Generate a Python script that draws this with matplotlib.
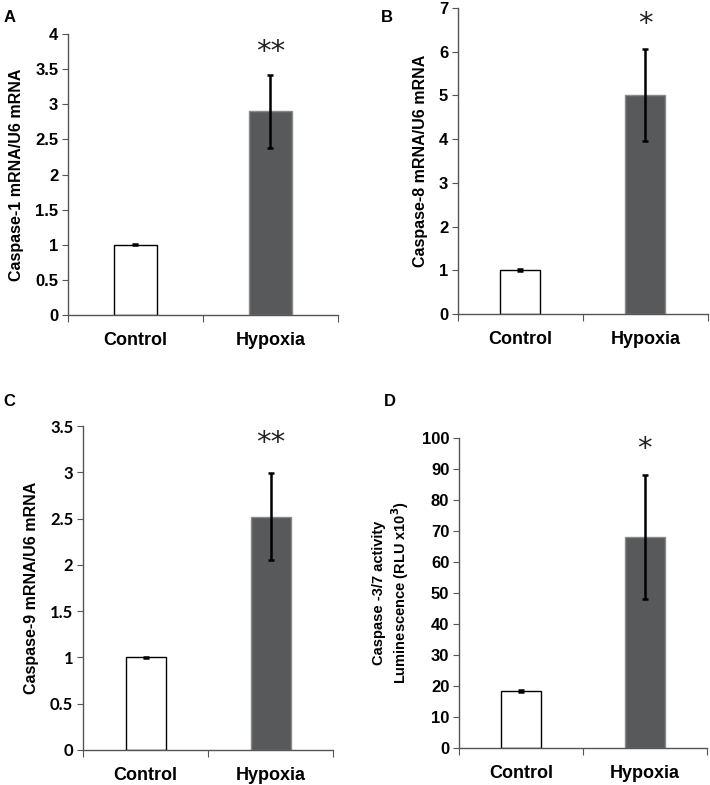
import matplotlib
matplotlib.use("Agg")
import matplotlib.pyplot as plt
import numpy as np

plt.rcParams['font.family'] = ['Liberation Sans', 'DejaVu Sans']
plt.rcParams['font.weight'] = 'bold'
plt.rcParams['axes.labelweight'] = 'bold'

# data
groups = ["Control", "Hypoxia"]
casp1_mean = [1.0, 2.9]
casp1_err = [0.01, 0.52]
casp8_mean = [1.0, 5.0]
casp8_err = [0.02, 1.05]
casp9_mean = [1.0, 2.52]
casp9_err = [0.01, 0.47]
casp37_mean = [18.5, 68.0]
casp37_err = [0.3, 20.0]

panel_letters = ["A", "B", "C", "D"]
ylabels = ["Caspase-1 mRNA/U6 mRNA",
           "Caspase-8 mRNA/U6 mRNA",
           "Caspase-9 mRNA/U6 mRNA",
           "Caspase -3/7 activity\nLuminescence (RLU x10$^{3}$)"]
ylims = [4, 7, 3.5, 100]
ysteps = [0.5, 1, 0.5, 10]
stars = ["**", "*", "**", "*"]
star_y = [3.74, 6.62, 3.32, 96.5]
ylab_size = [11.5, 11.5, 11.5, 10.5]

# axes rectangles in figure fractions (left, bottom, width, height)
rects = [(0.0958, 0.5987, 0.380, 0.358),
         (0.645, 0.600, 0.352, 0.390),
         (0.117, 0.0446, 0.352, 0.4127),
         (0.6465, 0.0471, 0.349, 0.395)]
letter_pos = [(0.005, 0.978), (0.537, 0.978), (0.005, 0.488), (0.541, 0.488)]

means = [casp1_mean, casp8_mean, casp9_mean, casp37_mean]
errs = [casp1_err, casp8_err, casp9_err, casp37_err]

fig = plt.figure(figsize=(7.1, 7.85), dpi=100)
axes = []

for i in range(4):
    ax = fig.add_axes(rects[i])
    axes.append(ax)
    x = [0, 1]
    ax.bar(x, means[i], width=0.32, color=["white", "#58595b"],
           edgecolor=["black", "#8a8a8a"], linewidth=1.0, zorder=2)
    ax.errorbar(x, means[i], yerr=errs[i], fmt="none", ecolor="black",
                elinewidth=1.8, capsize=2.5, capthick=1.8, zorder=3)
    ax.set_xlim(-0.5, 1.5)
    ax.set_ylim(0, ylims[i])

    ax.tick_params(axis="x", which="major", length=5, direction="out", color="#555555")
    ax.tick_params(axis="y", length=4, direction="out", color="#555555", pad=3,
                   labelsize=12)

    yt = np.arange(0, ylims[i] + ysteps[i] / 2, ysteps[i])
    ax.set_yticks(yt)
    ax.set_yticklabels(["%g" % v for v in yt], fontweight="bold")

    ax.set_xticks([-0.5, 0.5, 1.5])
    ax.set_xticklabels([])
    ax.set_xticks(x, minor=True)
    ax.set_xticklabels(groups, minor=True, fontsize=13, fontweight="bold")
    ax.tick_params(axis="x", which="minor", length=0, pad=12)

    for s in ["top", "right"]:
        ax.spines[s].set_visible(False)
    for s in ["left", "bottom"]:
        ax.spines[s].set_color("#555555")
        ax.spines[s].set_linewidth(1.0)

    ax.set_ylabel(ylabels[i], fontsize=ylab_size[i], fontweight="bold", labelpad=8)
    ax.text(1, star_y[i], stars[i], ha="center", va="center", fontsize=21,
            color="#222222", family=["DejaVu Sans"], fontweight="normal")

    fig.text(letter_pos[i][0], letter_pos[i][1], panel_letters[i],
             fontsize=12, fontweight="bold", ha="left", va="center")

fig.canvas.draw()
for i, ax in enumerate(axes):
    for lab in ax.yaxis.get_majorticklabels():
        lab.set_fontweight("bold")
        lab.set_fontsize(12)
        if i == 2:
            lab.set_family(["Lato", "DejaVu Sans"])

fig.savefig("out.png", dpi=100)
